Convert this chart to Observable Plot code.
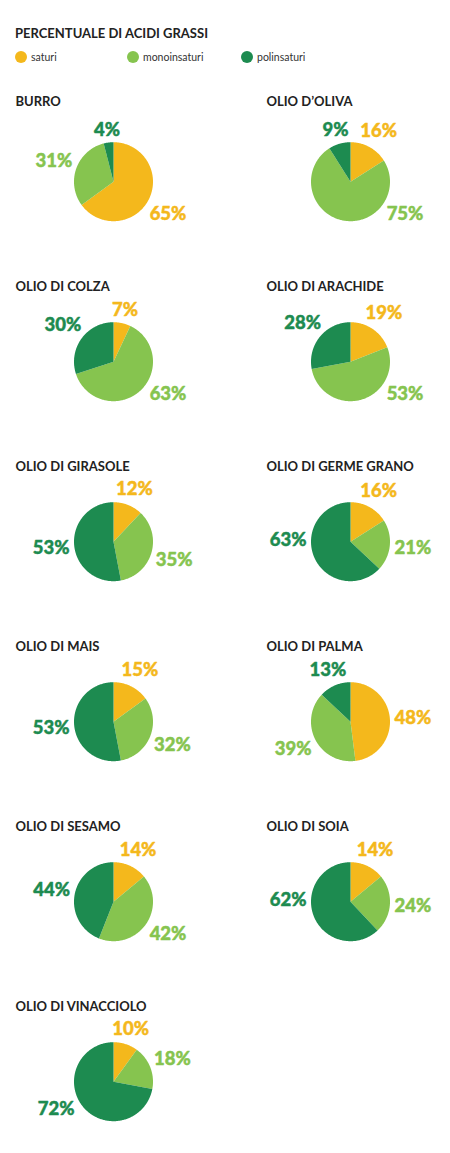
<!DOCTYPE html>
<html>
<head>
<meta charset="utf-8">
<script src="https://cdn.jsdelivr.net/npm/d3@7"></script>
<script src="https://cdn.jsdelivr.net/npm/@observablehq/plot@0.6"></script>
<style>
  html, body { margin: 0; padding: 0; background: #fff; }
  body { font-family: Lato, "Open Sans", sans-serif; color: #222; }
  #wrap { position: relative; width: 450px; height: 1153px; overflow: hidden; }
  #title { position: absolute; left: 15px; top: 26.9px; font-size: 13px; line-height: 13px; font-weight: 700; color: #222; white-space: nowrap; }
  .leg { position: absolute; top: 51px; height: 12px; display: flex; align-items: center; font-size: 10.5px; color: #333; white-space: nowrap; }
  .leg i { display: inline-block; width: 12px; height: 12px; border-radius: 50%; margin-right: 4px; }
  #grid { position: absolute; left: 0; top: 75px; width: 450px; display: flex; flex-wrap: wrap; }
  #grid svg { display: block; }
</style>
</head>
<body>
<div id="wrap">
  <div id="title">PERCENTUALE DI ACIDI GRASSI</div>
  <div id="legend"></div>
  <div id="grid"></div>
</div>
<script>
// ---- data ----
const foods = ["BURRO", "OLIO D’OLIVA", "OLIO DI COLZA", "OLIO DI ARACHIDE", "OLIO DI GIRASOLE",
  "OLIO DI GERME GRANO", "OLIO DI MAIS", "OLIO DI PALMA", "OLIO DI SESAMO", "OLIO DI SOIA", "OLIO DI VINACCIOLO"];
const saturi       = [65, 16,  7, 19, 12, 16, 15, 48, 14, 14, 10];
const monoinsaturi = [31, 75, 63, 53, 35, 21, 32, 39, 42, 24, 18];
const polinsaturi  = [ 4,  9, 30, 28, 53, 63, 53, 13, 44, 62, 72];
const seriesNames  = ["saturi", "monoinsaturi", "polinsaturi"];
const seriesColors = ["#F4B81C", "#86C44F", "#1D8B50"];

// ---- layout ----
const R = 39.5;            // pie radius (px)
const CELL_W = 225, CELL_H = 180, CY = 106.2;
const COLS = [{cx: 113, tx: 15}, {cx: 125, tx: 41}];
const FS = 18.5;           // label font size
const FONT = "Lato, 'Open Sans', sans-serif";

// legend
const legend = document.getElementById("legend");
const legLeft = [15, 127, 241];
seriesNames.forEach((s, k) => {
  const el = document.createElement("div");
  el.className = "leg";
  el.style.left = legLeft[k] + "px";
  el.innerHTML = `<i style="background:${seriesColors[k]}"></i><span>${s}</span>`;
  legend.appendChild(el);
});

const grid = document.getElementById("grid");
foods.forEach((name, i) => {
  const vals = [saturi[i], monoinsaturi[i], polinsaturi[i]];
  const total = d3.sum(vals);
  const col = i % 2, row = Math.floor(i / 2);
  const {cx, tx} = COLS[col];
  let acc = 0;
  const pts = [], labels = [];
  vals.forEach((v, k) => {
    const s = seriesNames[k];
    const a0 = acc / total * 2 * Math.PI, a1 = (acc + v) / total * 2 * Math.PI;
    acc += v;
    const n = Math.max(2, Math.ceil((a1 - a0) / (Math.PI / 180)));
    pts.push({s, x: 0, y: 0});
    for (let j = 0; j <= n; j++) {
      const a = a0 + (a1 - a0) * j / n;
      pts.push({s, x: Math.sin(a), y: Math.cos(a)});
    }
    pts.push({s, x: 0, y: 0});
    // label placement along the slice's mid angle, kept off the bottom
    let m = (a0 + a1) / 2 * 180 / Math.PI;
    if (m > 115 && m <= 200) m = 120;
    else if (m > 200 && m < 245) m = 245;
    else if (m >= 245 && m < 260) m = 272;
    const t = m * Math.PI / 180;
    const txt = v + "%";
    const hw = ((txt.length - 1) * 0.58 + 0.8) * FS / 2;
    const d = (R + 4.5 + hw * Math.abs(Math.sin(t)) + 6.5 * Math.abs(Math.cos(t))) / R;
    labels.push({s, text: txt, x: d * Math.sin(t), y: d * Math.cos(t)});
  });

  const baseline = row === 0 ? CY - 75.5 : CY - 70.5;
  const svg = Plot.plot({
    width: CELL_W,
    height: CELL_H,
    margin: 0,
    style: {fontFamily: FONT, background: "transparent", overflow: "visible"},
    x: {domain: [-1, 1], range: [cx - R, cx + R], axis: null},
    y: {domain: [-1, 1], range: [CY + R, CY - R], axis: null},
    color: {domain: seriesNames, range: seriesColors},
    marks: [
      Plot.line(pts, {x: "x", y: "y", z: "s", fill: "s", stroke: "none", curve: "linear"}),
      Plot.text(labels, {x: "x", y: "y", text: "text", fill: "s", stroke: "s", strokeWidth: 0.45,
        fontSize: FS, fontWeight: 900, fontFamily: FONT, textAnchor: "middle", lineAnchor: "middle", dy: 0.5}),
      Plot.text([name], {frameAnchor: "top-left", text: d => d, dx: tx, dy: baseline - 0.71 * 13,
        lineAnchor: "top", textAnchor: "start", fontSize: 13, fontWeight: 700, fill: "#222", fontFamily: FONT})
    ]
  });
  grid.appendChild(svg);
});
</script>
</body>
</html>
